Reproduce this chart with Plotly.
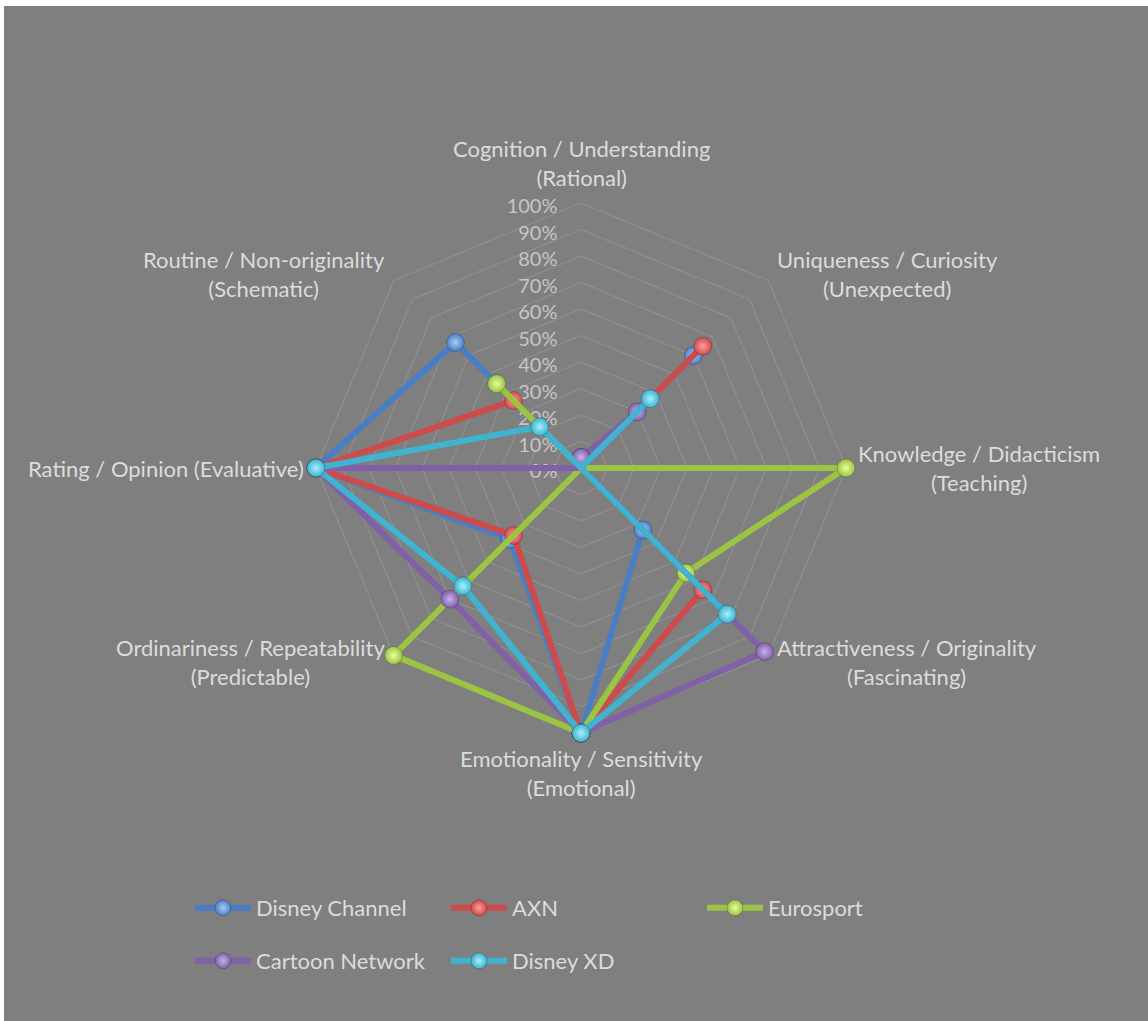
import math
import plotly.graph_objects as go

# ---- data -------------------------------------------------------------
categories = [
    "Cognition / Understanding<br>(Rational)",
    "Uniqueness / Curiosity<br>(Unexpected)",
    "Knowledge / Didacticism<br>(Teaching)",
    "Attractiveness / Originality<br>(Fascinating)",
    "Emotionality / Sensitivity<br>(Emotional)",
    "Ordinariness / Repeatability<br>(Predictable)",
    "Rating / Opinion (Evaluative)",
    "Routine / Non-originality<br>(Schematic)",
]

series_names = ["Disney Channel", "AXN", "Eurosport", "Cartoon Network", "Disney XD"]

disney_channel = [0.00, 0.60, 0.00, 0.33, 1.00, 0.38, 1.00, 0.67]
axn = [0.00, 0.65, 0.00, 0.65, 1.00, 0.36, 1.00, 0.36]
eurosport = [0.00, 0.00, 1.00, 0.56, 1.00, 1.00, 0.00, 0.45]
cartoon_network = [0.04, 0.30, 0.00, 0.98, 1.00, 0.70, 1.00, 0.00]
disney_xd = [0.00, 0.37, 0.00, 0.78, 1.00, 0.63, 1.00, 0.22]

radial_ticks = [i / 10 for i in range(11)]
radial_tick_labels = [f"{i * 10}%" for i in range(11)]

# ---- styling ----------------------------------------------------------
W, H = 1148, 1021
CX, CY, R = 581, 468, 265          # chart centre and radius of the 100% ring, px
R_MAX = 1.04                       # small headroom so lines on the 100% ring aren't clipped
BG = "#7f7f7f"
GRID = "#939393"
LABEL = "#dcdcdc"
TICK = "#c6c6c6"
FONT = "Lato, 'Open Sans', sans-serif"

line_colors = ["#4a7ec4", "#cf4b4b", "#9cc443", "#8060a8", "#3fb3cf"]
glow_colors = ["#a9cdf5", "#ff9d9d", "#e6ff9a", "#cbb0f0", "#a8f0ff"]
legend_ref = ["legend", "legend", "legend", "legend2", "legend2"]
values = [disney_channel, axn, eurosport, cartoon_network, disney_xd]

fig = go.Figure()

for name, vals, col, glow, lg in zip(series_names, values, line_colors, glow_colors, legend_ref):
    fig.add_trace(go.Scatterpolar(
        r=vals + vals[:1],
        theta=categories + categories[:1],
        mode="lines+markers",
        name=name,
        legend=lg,
        cliponaxis=False,
        line=dict(color=col, width=6),
        marker=dict(
            size=18,
            color=col,
            gradient=dict(type="radial", color=glow),
            line=dict(width=0.6, color="rgba(0,0,0,0.35)"),
        ),
        hoverinfo="skip",
    ))

# polar domain sized so the 100% ring sits at (CX, CY) with radius R
R_OUT = R * R_MAX
dom_x = [(CX - R_OUT) / W, (CX + R_OUT) / W]
dom_y = [1 - (CY + R_OUT) / H, 1 - (CY - R_OUT) / H]

legend_style = dict(
    orientation="h",
    x=190 / W, xanchor="left",
    yanchor="middle",
    entrywidth=185, entrywidthmode="pixels",
    itemwidth=56,
    font=dict(family=FONT, size=22, color=LABEL),
    bgcolor="rgba(0,0,0,0)",
)

fig.update_layout(
    width=W,
    height=H,
    margin=dict(l=0, r=0, t=0, b=0),
    paper_bgcolor="white",
    font=dict(family=FONT, color=LABEL),
    showlegend=True,
    polar=dict(
        domain=dict(x=dom_x, y=dom_y),
        bgcolor="rgba(0,0,0,0)",
        gridshape="linear",
        radialaxis=dict(
            range=[0, R_MAX],
            tickvals=radial_ticks,
            ticktext=radial_tick_labels,
            angle=90,
            side="counterclockwise",
            showline=False,
            ticks="outside",
            ticklen=5,
            tickcolor="rgba(0,0,0,0)",
            gridcolor=GRID,
            gridwidth=1,
            tickfont=dict(family=FONT, size=20, color=TICK),
            layer="below traces",
        ),
        angularaxis=dict(
            direction="clockwise",
            rotation=90,
            showticklabels=False,
            ticks="",
            showgrid=False,
            showline=False,
            layer="below traces",
        ),
    ),
    legend=dict(legend_style, y=1 - 908 / H),
    legend2=dict(legend_style, y=1 - 961 / H),
)

# grey chart area with a thin white edge at the top and left
fig.add_shape(
    type="rect", xref="paper", yref="paper",
    x0=4 / W, x1=1.0, y0=0.0, y1=1 - 6 / H,
    fillcolor=BG, line=dict(width=0), layer="below",
)

# category labels placed just outside each spoke
n = len(categories)
offset = 10
for i, label in enumerate(categories):
    ang = 2 * math.pi * i / n
    sx, sy = math.sin(ang), math.cos(ang)
    px = CX + (R + offset) * sx
    py = CY - (R + offset) * sy
    if abs(sx) < 1e-6:
        xanchor = "center"
        yanchor = "bottom" if sy > 0 else "top"
    else:
        xanchor = "left" if sx > 0 else "right"
        yanchor = "middle"
    fig.add_annotation(
        x=px / W, y=1 - py / H, xref="paper", yref="paper",
        text=label, showarrow=False, align="center",
        xanchor=xanchor, yanchor=yanchor,
        font=dict(family=FONT, size=22, color=LABEL),
    )

fig.write_html("out.html")
